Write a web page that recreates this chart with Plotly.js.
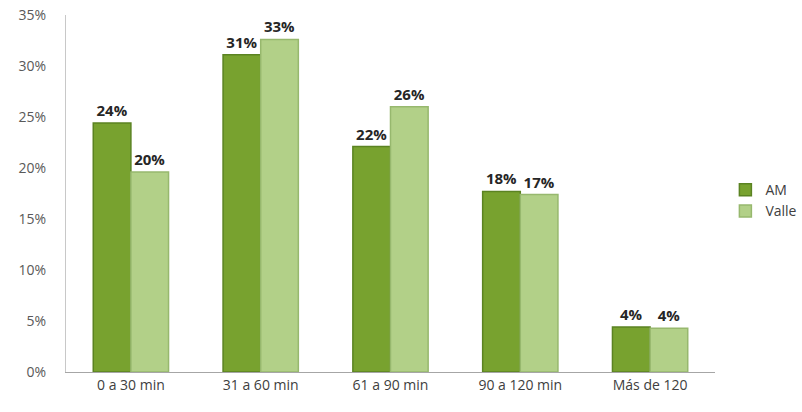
<!DOCTYPE html>
<html>
<head>
<meta charset="utf-8">
<script src="https://cdn.plot.ly/plotly-3.0.1.min.js"></script>
<style>html,body{margin:0;padding:0;background:#fff;}#chart{width:802px;height:412px;}</style>
</head>
<body>
<div id="chart"></div>
<script>
const categories = ["0 a 30 min", "31 a 60 min", "61 a 90 min", "90 a 120 min", "Más de 120"];
const amValues = [24.4, 31.1, 22.1, 17.7, 4.4];
const valleValues = [19.6, 32.6, 26.0, 17.4, 4.3];
const yTickVals = [0, 5, 10, 15, 20, 25, 30, 35];
const yTickText = ["0%", "5%", "10%", "15%", "20%", "25%", "30%", "35%"];

const labelFont = {family: "Open Sans, sans-serif", size: 15, color: "#262626", weight: "bold"};

const traces = [
  {
    type: "bar", name: "AM", x: categories, y: amValues,
    marker: {color: "#78a22f", line: {color: "#5b8322", width: 1.5}},
    texttemplate: "<b>%{y:.0f}%</b>", textposition: "outside", cliponaxis: false,
    textfont: labelFont, hoverinfo: "skip"
  },
  {
    type: "bar", name: "Valle", x: categories, y: valleValues,
    marker: {color: "#b2d088", line: {color: "#97b86e", width: 1.5}},
    texttemplate: "<b>%{y:.0f}%</b>", textposition: "outside", cliponaxis: false,
    textfont: labelFont, hoverinfo: "skip"
  }
];

const layout = {
  width: 802, height: 412,
  margin: {l: 66, r: 87, t: 15, b: 40, autoexpand: false},
  paper_bgcolor: "#ffffff", plot_bgcolor: "#ffffff",
  barmode: "group", bargap: 0.42, bargroupgap: 0,
  showlegend: true,
  legend: {x: 1.016, y: 0.48, xanchor: "left", yanchor: "middle",
           font: {family: "Open Sans, sans-serif", size: 14, color: "#404040"},
           itemwidth: 30, tracegroupgap: 2},
  xaxis: {
    showgrid: false, showline: true, linecolor: "#a6a6a6", linewidth: 1,
    ticks: "", tickfont: {family: "Open Sans, sans-serif", size: 14, color: "#404040"},
    zeroline: false
  },
  yaxis: {
    range: [0, 35], tickvals: yTickVals, ticktext: yTickText,
    showgrid: false, showline: true, linecolor: "#c8c8c8", linewidth: 1,
    zeroline: false, ticks: "",
    tickfont: {family: "Open Sans, sans-serif", size: 14, color: "#595959"},
    ticklabelstandoff: 16
  }
};

Plotly.newPlot("chart", traces, layout, {displayModeBar: false, staticPlot: true});
</script>
</body>
</html>
